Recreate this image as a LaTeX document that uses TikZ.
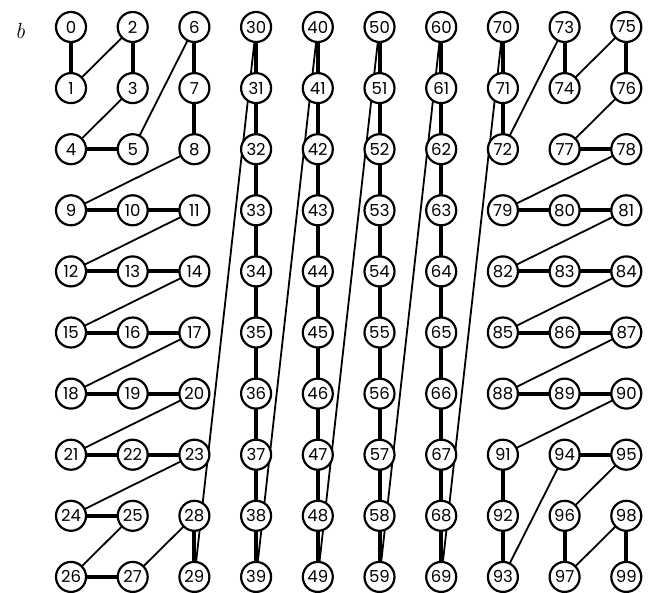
\documentclass[tikz,border=0pt]{standalone}
\usepackage{fontspec}
\newfontfamily\numfont{Poppins}
\pgfdeclarelayer{bg}
\pgfsetlayers{bg,main}
\tikzset{
  nd/.style={circle,draw,line width=2.2pt,fill=white,minimum size=30pt,inner sep=0pt,font=\numfont\fontsize{16.5}{16.5}\selectfont},
  thk/.style={line width=4pt},
  thn/.style={line width=1.8pt},
}
\begin{document}
\begin{tikzpicture}[x=1pt,y=-1pt]
\useasboundingbox (0,0) rectangle (653,592);
\node[font=\itshape\fontsize{22}{22}\selectfont] (lab) at (20,31) {b};
\foreach \n/\c/\r in {
 0/0/0, 1/0/1, 4/0/2, 9/0/3, 12/0/4, 15/0/5, 18/0/6, 21/0/7, 24/0/8, 26/0/9,
 2/1/0, 3/1/1, 5/1/2, 10/1/3, 13/1/4, 16/1/5, 19/1/6, 22/1/7, 25/1/8, 27/1/9,
 6/2/0, 7/2/1, 8/2/2, 11/2/3, 14/2/4, 17/2/5, 20/2/6, 23/2/7, 28/2/8, 29/2/9,
 70/7/0, 71/7/1, 72/7/2, 79/7/3, 82/7/4, 85/7/5, 88/7/6, 91/7/7, 92/7/8, 93/7/9,
 73/8/0, 74/8/1, 77/8/2, 80/8/3, 83/8/4, 86/8/5, 89/8/6, 94/8/7, 96/8/8, 97/8/9,
 75/9/0, 76/9/1, 78/9/2, 81/9/3, 84/9/4, 87/9/5, 90/9/6, 95/9/7, 98/9/8, 99/9/9}
 \node[nd] (n\n) at ({71+61.7*\c},{27+61.1*\r}) {\n};
\foreach \s/\c in {3/3,4/4,5/5,6/6}
 \foreach \k in {0,...,9}
  \node[nd] (n\s\k) at ({71+61.7*\c},{27+61.1*\k}) {\s\k};
\begin{pgfonlayer}{bg}
\foreach \a/\b in {0/1,2/3,4/5,6/7,7/8,9/10,10/11,12/13,13/14,15/16,16/17,18/19,19/20,21/22,22/23,24/25,26/27,28/29,
 70/71,71/72,73/74,75/76,77/78,79/80,80/81,82/83,83/84,85/86,86/87,88/89,89/90,91/92,92/93,94/95,96/97,98/99}
 \draw[thk] (n\a.center) -- (n\b.center);
\foreach \s in {30,40,50,60}
 \foreach \k in {0,...,8} {
  \pgfmathtruncatemacro\ea{\s+\k}
  \pgfmathtruncatemacro\eb{\s+\k+1}
  \draw[thk] (n\ea.center) -- (n\eb.center);
 }
\foreach \a/\b in {1/2,3/4,5/6,8/9,11/12,14/15,17/18,20/21,23/24,25/26,27/28,29/30,39/40,49/50,59/60,69/70,
 72/73,74/75,76/77,78/79,81/82,84/85,87/88,90/91,93/94,95/96,97/98}
 \draw[thn] (n\a.center) -- (n\b.center);
\end{pgfonlayer}
\end{tikzpicture}
\end{document}
